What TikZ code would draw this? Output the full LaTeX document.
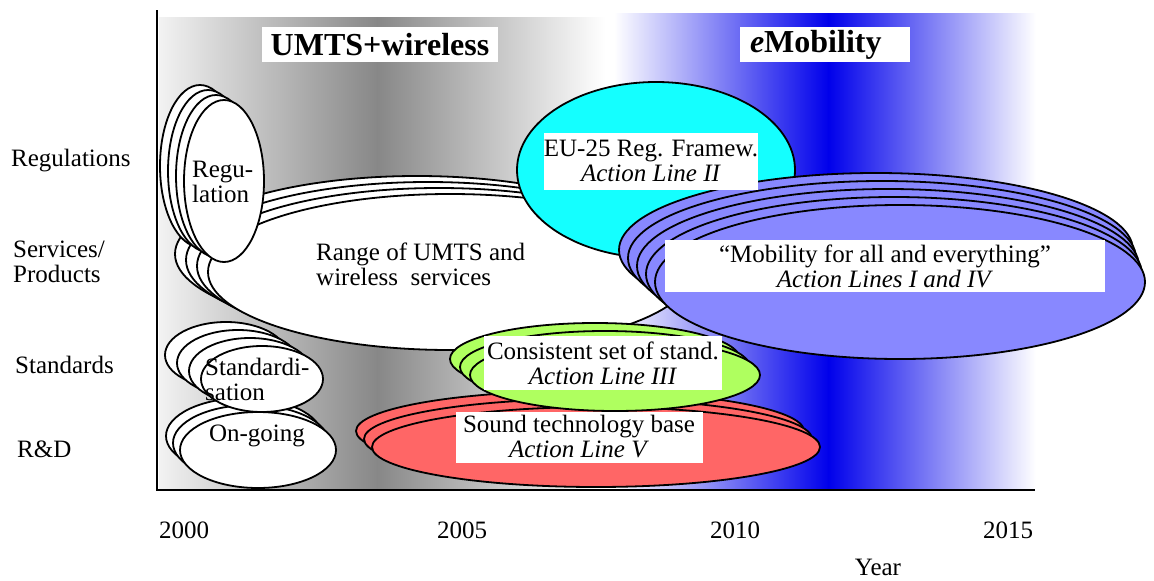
\documentclass[tikz,border=0pt]{standalone}
\usepackage{fontspec}
\setmainfont{Liberation Serif}
\usetikzlibrary{shapes.geometric}

\definecolor{gpale}{gray}{0.95}
\definecolor{gdark}{gray}{0.53}
\definecolor{deepblue}{RGB}{0,0,235}
\definecolor{regcyan}{RGB}{20,255,255}
\definecolor{mobblue}{RGB}{136,136,255}
\definecolor{stdgreen}{RGB}{175,255,95}
\definecolor{techred}{RGB}{255,102,102}

\newcommand\labfont{\fontsize{25}{25}\selectfont}
\newcommand\headfont{\fontsize{32}{34}\selectfont\bfseries}

\begin{document}
\begin{tikzpicture}[x=1pt,y=-1pt,
  blob/.style={ellipse, draw=black, line width=1.8pt, inner sep=0pt},
  lab/.style={font=\labfont, inner sep=0pt},
  tbox/.style={fill=white, inner sep=0pt, align=center, font=\labfont},
  hbox/.style={fill=white, inner sep=0pt, font=\headfont}]

\useasboundingbox (0,0) rectangle (1154,581);

% period bands
\shade[left color=gpale, right color=gdark] (159,17) rectangle (378,490);
\shade[left color=gdark, right color=white] (377,17) rectangle (605,490);
\shade[left color=white, right color=deepblue] (614,13) rectangle (829,490);
\shade[left color=deepblue, right color=white] (828,13) rectangle (1036,490);

% services: range of UMTS and wireless
\foreach \k in {3,2,1,0}
  \node[blob, fill=white, minimum width=484pt, minimum height=156pt]
    (umts\k) at ({450-11*\k},{272-6*\k}) {};

% regulation
\foreach \k in {3,2,1,0}
  \node[blob, fill=white, minimum width=80pt, minimum height=162pt]
    (reg\k) at ({224-8*\k},{181-5*\k}) {};

% EU-25 regulatory framework
\node[blob, fill=regcyan, minimum width=278pt, minimum height=176pt]
  (eureg) at (656,170) {};

% mobility for all
\foreach \k in {4,3,2,1,0}
  \node[blob, fill=mobblue, minimum width={(490+6*\k)*1pt}, minimum height=154pt]
    (mob\k) at ({900-6*\k},{282-8*\k}) {};

% technology base
\foreach \k in {2,1,0}
  \node[blob, fill=techred, minimum width=448pt, minimum height=80pt]
    (tech\k) at ({596-8*\k},{447-8*\k}) {};

% consistent standards
\foreach \k in {2,1,0}
  \node[blob, fill=stdgreen, minimum width=290pt, minimum height=72pt]
    (cons\k) at ({615-10*\k},{375-8*\k}) {};

% on-going R&D
\foreach \k in {2,1,0}
  \node[blob, fill=white, minimum width=156pt, minimum height=76pt]
    (ongo\k) at ({258-7*\k},{450-7*\k}) {};

% standardisation
\foreach \k in {3,2,1,0}
  \node[blob, fill=white, minimum width=122pt, minimum height=66pt]
    (stdz\k) at ({262-12*\k},{379-8*\k}) {};

% axes
\coordinate (ytop) at (157,10);
\coordinate (orig) at (157,490);
\coordinate (xend) at (1035,490);
\draw[line width=2pt] (ytop) -- (orig) -- (xend);

% period headings
\node[hbox, minimum width=236pt, minimum height=35pt] (hdumts) at (380,44.5) {UMTS+wireless};
\node[hbox, minimum width=170pt, minimum height=35pt, text width=150pt, inner xsep=10pt, align=left]
  (hdmob) at (825,44.5) {\textit{e}Mobility};

% labels inside the ellipses
\node[lab, anchor=west, align=left] (treg) at (192,182) {Regu-\\lation};
\node[lab, anchor=west, align=left] (tumts) at (316,264.5) {Range of UMTS and\\wireless~ services};
\node[lab, anchor=west, align=left] (tstdz) at (205,379) {Standardi-\\sation};
\node[lab] (tongo) at (257,436) {On-going};

\node[tbox, minimum width=207pt, minimum height=57pt] (teu) at (651,161)
  {EU-25 Reg. Framew.\\\textit{Action Line II}};
\node[tbox, minimum width=440pt, minimum height=52pt] (tmob) at (885,266)
  {“Mobility for all and everything”\\\textit{Action Lines I and IV}};
\node[tbox, minimum width=238pt, minimum height=54pt] (tcons) at (603,363)
  {Consistent set of stand.\\\textit{Action Line III}};
\node[tbox, minimum width=247pt, minimum height=51pt] (ttech) at (579,437)
  {Sound technology base\\\textit{Action Line V}};

% row labels
\node[lab, anchor=west] (rowreg) at (11,161) {Regulations};
\node[lab, anchor=west, align=left] (rowsvc) at (13,262) {Services/\\Products};
\node[lab, anchor=west] (rowstd) at (15,365) {Standards};
\node[lab, anchor=west] (rowrd) at (17,449) {R\&D};

% time axis
\node[lab] (y2000) at (184,530) {2000};
\node[lab] (y2005) at (462,530) {2005};
\node[lab] (y2010) at (735,530) {2010};
\node[lab] (y2015) at (1008,530) {2015};
\node[lab] (yname) at (878,567) {Year};

\end{tikzpicture}
\end{document}
